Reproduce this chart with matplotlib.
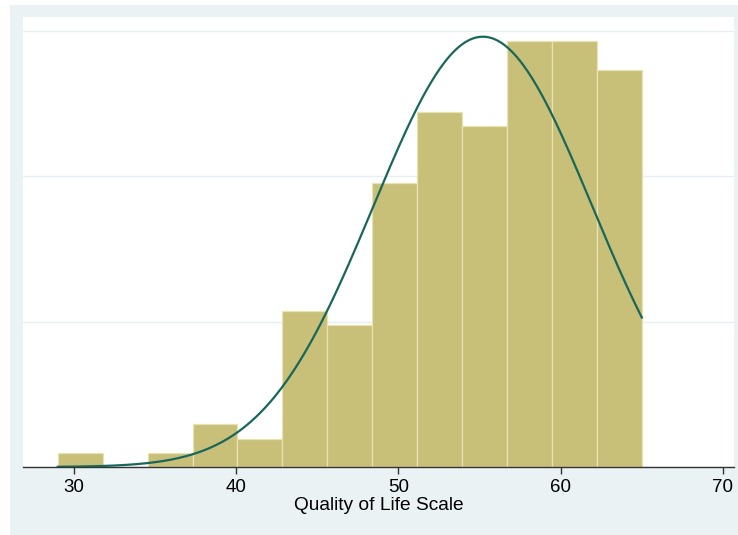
import numpy as np
import matplotlib.pyplot as plt
from matplotlib.patches import Rectangle

# Histogram of Quality of Life Scale (13 bins, 29 to 65), counts
bin_start = 29.0
bin_end = 65.0
counts = [1, 0, 1, 3, 2, 11, 10, 20, 25, 24, 30, 30, 28]
# normal curve parameters (estimated)
mu = 55.2
sigma = 6.74
xticks = [30, 40, 50, 60, 70]
yticks = [0, 0.02, 0.04, 0.06]

plt.rcParams['font.family'] = ['Liberation Sans', 'DejaVu Sans']

n = sum(counts)
nb = len(counts)
edges = np.linspace(bin_start, bin_end, nb + 1)
width = edges[1] - edges[0]
dens = np.array(counts) / (n * width)

fig = plt.figure(figsize=(7.38, 5.35), dpi=100)
fig.patch.set_facecolor("white")
fig.patches.append(Rectangle((10/738, 0), 728/738, 530/535, transform=fig.transFigure,
                             facecolor="#eaf2f4", edgecolor="none", zorder=-10))

ax = fig.add_axes([23/738, 68/535, 711/738, 450/535])
ax.set_facecolor("white")

ax.bar(edges[:-1], dens, width=width, align="edge", color="#c8bf78",
       edgecolor="#e9e3b4", linewidth=0.9, zorder=2)

xs = np.linspace(bin_start, bin_end, 400)
ys = np.exp(-(xs - mu)**2 / (2*sigma**2)) / (sigma*np.sqrt(2*np.pi))
ax.plot(xs, ys, color="#19665a", linewidth=1.6, zorder=3)

ax.set_xlim(26.86, 70.68)
ax.set_ylim(0, 0.0619)
ax.set_xticks(xticks)
ax.set_yticks(yticks)
ax.set_yticklabels([])
ax.tick_params(axis="y", length=0)
ax.tick_params(axis="x", length=5, width=1, color="#333333", labelsize=13.5, pad=4)
ax.grid(axis="y", color="#e6eff2", linewidth=1, zorder=0)

for s in ["left", "right", "top"]:
    ax.spines[s].set_visible(False)
ax.spines["bottom"].set_color("#333333")
ax.spines["bottom"].set_linewidth(1)

ax.set_xlabel("Quality of Life Scale", fontsize=13.8, labelpad=0)

fig.savefig("out.png", dpi=100, facecolor=fig.get_facecolor())
